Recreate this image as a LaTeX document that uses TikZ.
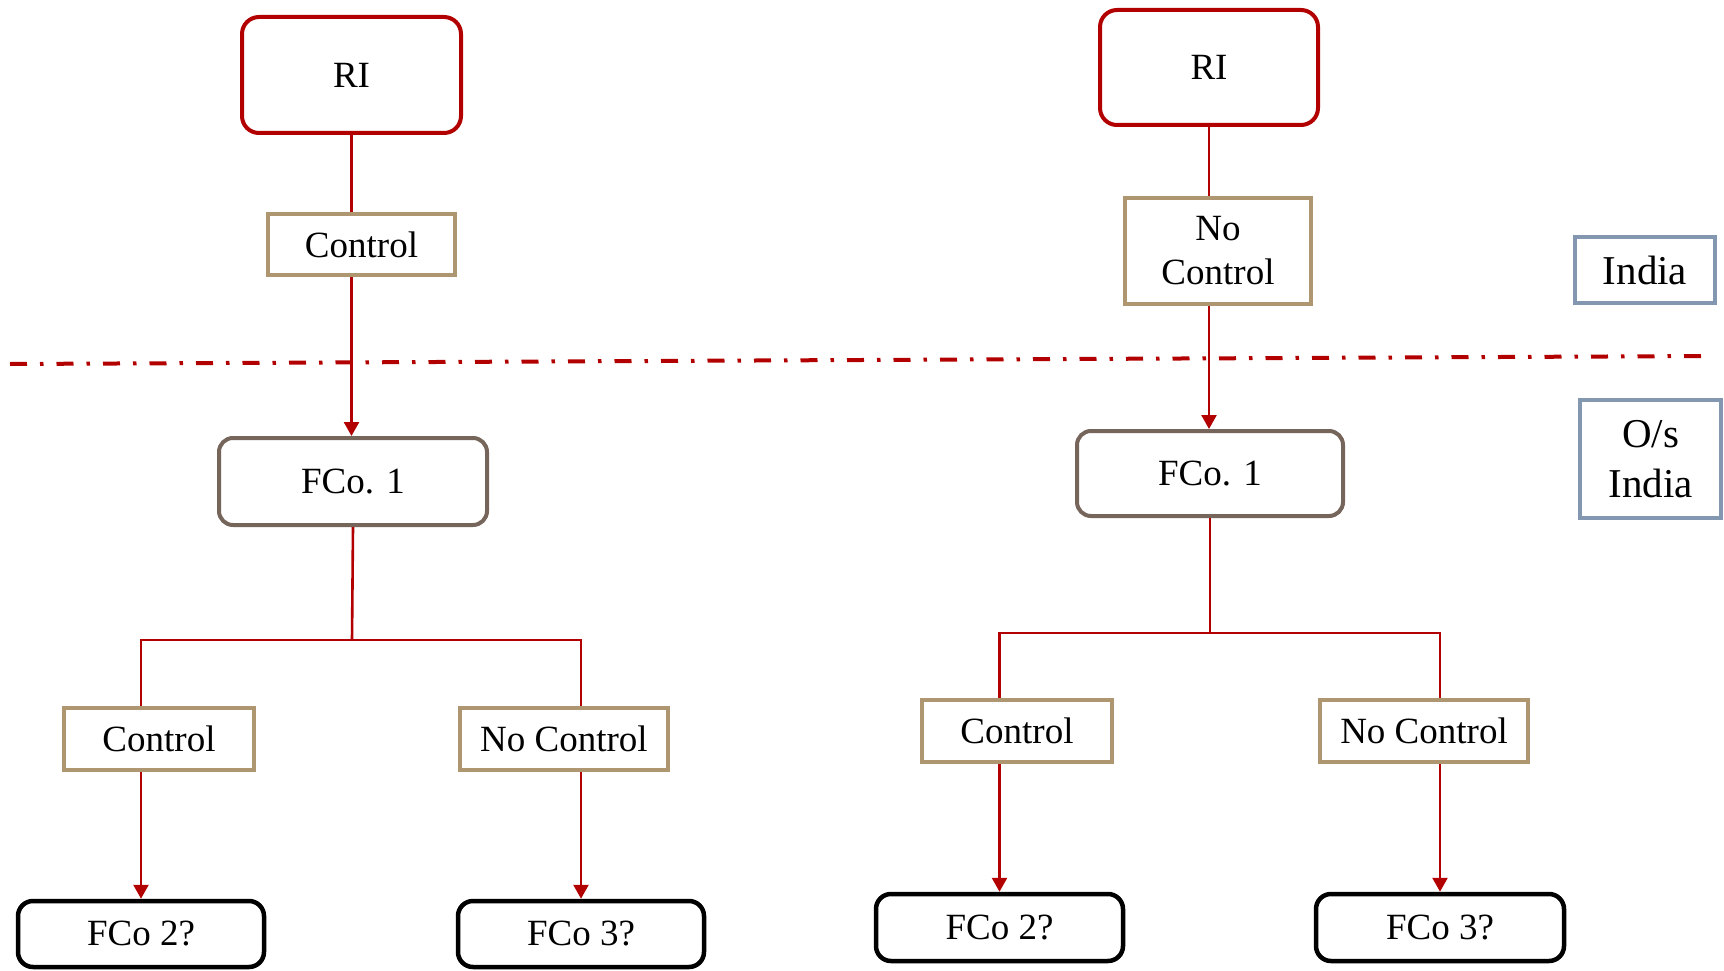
\documentclass[tikz,border=0pt]{standalone}
\usepackage{fontspec}
\setmainfont{Liberation Serif}
\usetikzlibrary{arrows.meta}
\definecolor{cred}{RGB}{178,0,0}
\definecolor{ctan}{RGB}{174,150,112}
\definecolor{cbrown}{RGB}{118,101,91}
\definecolor{cblue}{RGB}{132,151,176}
\tikzset{
  ribox/.style={draw=cred, line width=4pt, rounded corners=17pt, fill=white, inner sep=0pt, font=\fontsize{37}{44}\selectfont},
  ctrlbox/.style={draw=ctan, line width=4pt, fill=white, inner sep=0pt, align=center, font=\fontsize{37}{44}\selectfont},
  fcobox/.style={draw=cbrown, line width=4pt, rounded corners=14pt, fill=white, inner sep=0pt, font=\fontsize{37}{44}\selectfont},
  qbox/.style={draw=black, line width=4.5pt, rounded corners=15pt, fill=white, inner sep=0pt, font=\fontsize{37}{44}\selectfont},
  regbox/.style={draw=cblue, line width=4pt, fill=white, inner sep=0pt, align=center, font=\fontsize{41}{50}\selectfont},
  conn/.style={draw=cred, line width=2.6pt},
  arr/.style={conn, -{Triangle[width=15pt,length=14pt]}},
  divider/.style={draw=cred, line width=4pt, dash pattern=on 17pt off 13pt on 3.5pt off 13pt}
}
\begin{document}
\begin{tikzpicture}[x=1pt,y=-1pt]
\useasboundingbox (0,0) rectangle (1724,971);
% divider
\coordinate (dl) at (10,364);
\coordinate (dr) at (1713,356);
\draw[divider] (dl) -- (dr);

% left tree
\node[ribox, minimum width=219pt, minimum height=116pt] (RIa) at (351.5,75) {RI};
\node[ctrlbox, minimum width=187pt, minimum height=61pt] (Ca) at (361.5,244.5) {Control};
\node[fcobox, minimum width=268pt, minimum height=87pt] (Fa) at (353,481.5) {FCo. 1};
\coordinate (jA) at (352,640);
\node[ctrlbox, minimum width=190pt, minimum height=62pt] (Caa) at (159,739) {Control};
\node[ctrlbox, minimum width=208pt, minimum height=62pt] (Nab) at (564,739) {No Control};
\node[qbox, minimum width=246pt, minimum height=66pt] (Qa2) at (141,934) {FCo 2?};
\node[qbox, minimum width=246pt, minimum height=66pt] (Qa3) at (581,934) {FCo 3?};

% right tree
\node[ribox, minimum width=218pt, minimum height=115pt] (RIb) at (1209,67.5) {RI};
\node[ctrlbox, minimum width=186pt, minimum height=106pt] (Nb) at (1218,251) {No\\Control};
\node[fcobox, minimum width=266pt, minimum height=85pt] (Fb) at (1210,473.5) {FCo. 1};
\coordinate (jB) at (1210,633);
\node[ctrlbox, minimum width=190pt, minimum height=62pt] (Cba) at (1017,731) {Control};
\node[ctrlbox, minimum width=208pt, minimum height=62pt] (Nbb) at (1424,731) {No Control};
\node[qbox, minimum width=247pt, minimum height=67pt] (Qb2) at (999.5,927.5) {FCo 2?};
\node[qbox, minimum width=248pt, minimum height=67pt] (Qb3) at (1440,927.5) {FCo 3?};

% region labels
\node[regbox, minimum width=140pt, minimum height=66pt] (India) at (1645,270) {India};
\node[regbox, minimum width=141pt, minimum height=118pt] (Os) at (1650.5,459) {O/s\\India};

% left connectors
\draw[conn] (RIa.south) -- (RIa.south |- Ca.north);
\draw[arr] (RIa.south |- Ca.south) -- (RIa.south |- Fa.north);
\draw[conn] (Fa.south) -- (jA);
\draw[conn] (Qa2.north |- Caa.north) -- (Qa2.north |- jA) -- (Qa3.north |- jA) -- (Qa3.north |- Nab.north);
\draw[arr] (Qa2.north |- Caa.south) -- (Qa2.north);
\draw[arr] (Qa3.north |- Nab.south) -- (Qa3.north);

% right connectors
\draw[conn] (RIb.south) -- (RIb.south |- Nb.north);
\draw[arr] (RIb.south |- Nb.south) -- (RIb.south |- Fb.north);
\draw[conn] (Fb.south) -- (jB);
\draw[conn] (Qb2.north |- Cba.north) -- (Qb2.north |- jB) -- (Qb3.north |- jB) -- (Qb3.north |- Nbb.north);
\draw[arr] (Qb2.north |- Cba.south) -- (Qb2.north);
\draw[arr] (Qb3.north |- Nbb.south) -- (Qb3.north);
\end{tikzpicture}
\end{document}
